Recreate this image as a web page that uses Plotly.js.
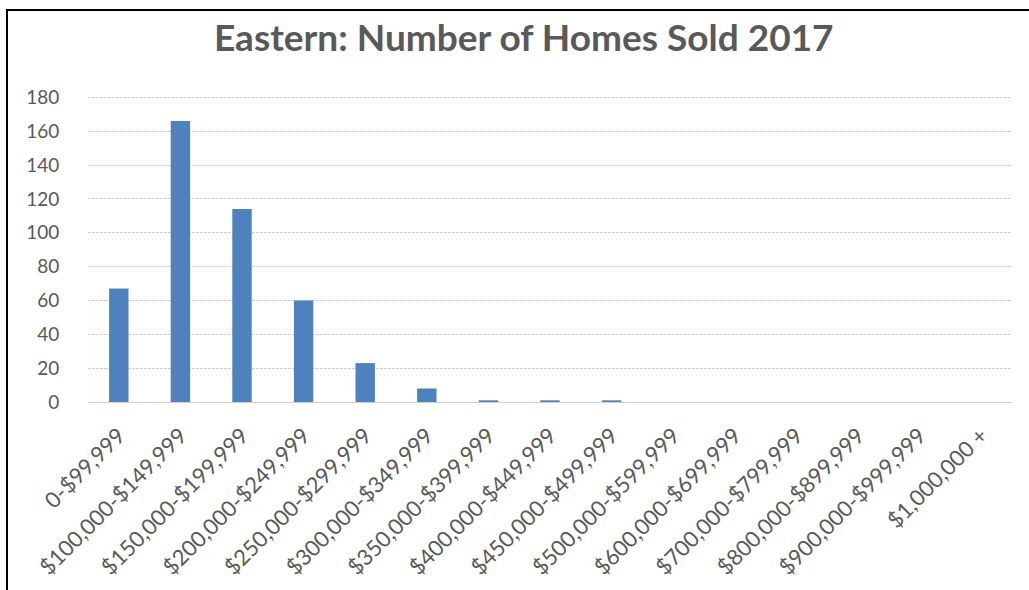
<!DOCTYPE html>
<html>
<head>
<meta charset="utf-8">
<script src="https://cdn.plot.ly/plotly-3.0.1.min.js"></script>
<style>
html,body{margin:0;padding:0;background:#fff;overflow:hidden;}
#chart{position:absolute;left:0;top:0;width:1029px;height:590px;}
.frameTop{position:absolute;left:6px;top:9px;width:1023px;height:2px;background:#000;}
.frameLeft{position:absolute;left:6px;top:9px;width:2px;height:581px;background:#000;}
</style>
</head>
<body>
<div id="chart"></div>
<div class="frameTop"></div>
<div class="frameLeft"></div>
<script>
const categories = [
  "0-$99,999", "$100,000-$149,999", "$150,000-$199,999", "$200,000-$249,999",
  "$250,000-$299,999", "$300,000-$349,999", "$350,000-$399,999", "$400,000-$449,999",
  "$450,000-$499,999", "$500,000-$599,999", "$600,000-$699,999", "$700,000-$799,999",
  "$800,000-$899,999", "$900,000-$999,999", "$1,000,000 +"
];
const homesSold = [67, 166, 114, 60, 23, 8, 1, 1, 1, 0, 0, 0, 0, 0, 0];
const yTicks = [0, 20, 40, 60, 80, 100, 120, 140, 160, 180];
const chartTitle = "Eastern: Number of Homes Sold 2017";

const textColor = "#595959";
const fontFam = "Lato, 'Open Sans', sans-serif";

Plotly.newPlot("chart", [{
  type: "bar",
  x: categories,
  y: homesSold,
  marker: {color: "#4f81bd", line: {width: 0}},
  hoverinfo: "x+y"
}], {
  width: 1029,
  height: 590,
  paper_bgcolor: "#fff",
  plot_bgcolor: "#fff",
  margin: {l: 88, r: 17, t: 94, b: 188},
  bargap: 0.685,
  showlegend: false,
  title: {
    text: chartTitle,
    font: {family: fontFam, size: 37, color: textColor, weight: 700},
    x: 0.509, xanchor: "center", xref: "container",
    y: 0.935, yanchor: "middle", yref: "container"
  },
  xaxis: {
    type: "category",
    tickangle: -45,
    tickfont: {family: fontFam, size: 22, color: textColor},
    showline: false,
    ticks: "outside", ticklen: 11, tickcolor: "rgba(0,0,0,0)",
    showgrid: false,
    automargin: false
  },
  yaxis: {
    range: [0, 182],
    tickvals: yTicks,
    ticktext: yTicks.map(String),
    tickfont: {family: fontFam, size: 19, color: textColor},
    ticks: "outside", ticklen: 24, tickcolor: "rgba(0,0,0,0)",
    showgrid: true, gridcolor: "#cfcfcf", gridwidth: 1, griddash: "3px,1px",
    zeroline: true, zerolinecolor: "#cfcfcf", zerolinewidth: 1,
    showline: false,
    automargin: false
  }
}, {displayModeBar: false, staticPlot: true});
</script>
</body>
</html>
